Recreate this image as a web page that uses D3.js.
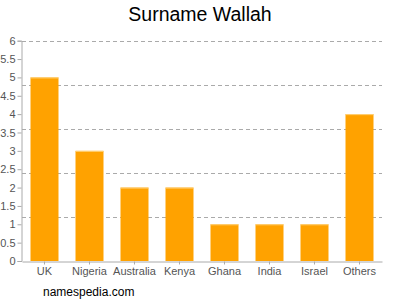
<!DOCTYPE html>
<html>
<head>
<meta charset="utf-8">
<script src="https://cdn.jsdelivr.net/npm/d3@7"></script>
<style>
  body { margin: 0; background: #fff; }
  svg text { font-family: "Liberation Sans", Arial, sans-serif; }
</style>
</head>
<body>
<svg id="chart" width="400" height="300"></svg>
<script>
// Surname Wallah -- bar chart

var countries = ["UK", "Nigeria", "Australia", "Kenya", "Ghana", "India", "Israel", "Others"];
var counts = [5, 3, 2, 2, 1, 1, 1, 4];
var yTicks = [0, 0.5, 1, 1.5, 2, 2.5, 3, 3.5, 4, 4.5, 5, 5.5, 6];
var gridLines = [1.2, 2.4, 3.6, 4.8, 6];

var svg = d3.select("#chart");
// plot box (note: "top" is taken by window.top)
var plotLeft = 22, plotRight = 382, plotTop = 40.7, plotBottom = 261;

var x = d3.scaleBand().domain(countries).range([plotLeft, plotRight]).paddingInner(0.378).paddingOuter(0.189);
var y = d3.scaleLinear().domain([0, 6]).range([plotBottom, plotTop]);

// title
svg.append("text")
  .attr("x", 200).attr("y", 21)
  .attr("text-anchor", "middle")
  .style("font-size", "19.5px")
  .style("fill", "#000")
  .text("Surname Wallah");

// dashed grid
svg.append("g").selectAll("line")
  .data(gridLines)
  .enter().append("line")
  .attr("x1", plotLeft).attr("x2", plotRight)
  .attr("y1", function (d) { return Math.round(y(d)) + 0.5; })
  .attr("y2", function (d) { return Math.round(y(d)) + 0.5; })
  .attr("stroke", "#aaa")
  .attr("stroke-dasharray", "4,3");

// bars
svg.append("g").selectAll("rect")
  .data(countries)
  .enter().append("rect")
  .attr("x", function (d) { return x(d); })
  .attr("width", x.bandwidth())
  .attr("y", function (d, i) { return y(counts[i]); })
  .attr("height", function (d, i) { return y(0) - y(counts[i]); })
  .attr("fill", "#ffa200");

// light top edge on each bar
svg.append("g").selectAll("line")
  .data(countries)
  .enter().append("line")
  .attr("x1", function (d) { return x(d); })
  .attr("x2", function (d) { return x(d) + x.bandwidth(); })
  .attr("y1", function (d, i) { return y(counts[i]) + 0.5; })
  .attr("y2", function (d, i) { return y(counts[i]) + 0.5; })
  .attr("stroke", "#ffd27a");

// y axis
var yAxis = svg.append("g")
  .attr("transform", "translate(" + (plotLeft - 0.5) + ",0)")
  .call(d3.axisLeft(y).tickValues(yTicks).tickSize(4).tickPadding(2).tickFormat(d3.format("")));
yAxis.select(".domain").attr("stroke", "#aaa");
yAxis.selectAll(".tick line").attr("stroke", "#aaa");
yAxis.selectAll("text").style("font-size", "11px").style("fill", "#555");

// x axis
var xAxis = svg.append("g")
  .attr("transform", "translate(0," + (plotBottom + 0.5) + ")")
  .call(d3.axisBottom(x).tickSize(3).tickSizeOuter(0).tickPadding(3));
xAxis.select(".domain").attr("stroke", "#aaa");
xAxis.selectAll(".tick line").attr("stroke", "#aaa");
xAxis.selectAll("text").style("font-size", "11px").style("fill", "#555");

// watermark
svg.append("text")
  .attr("x", 43).attr("y", 296)
  .style("font-size", "12px")
  .style("fill", "#000")
  .text("namespedia.com");
</script>
</body>
</html>
